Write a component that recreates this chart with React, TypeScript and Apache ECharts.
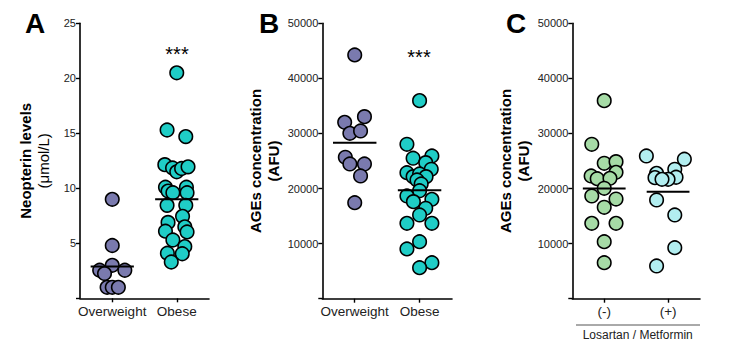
import React, { useEffect, useRef } from "react";
import * as echarts from "echarts";

// Group positions on the horizontal (value) axis
const groupX = [1, 3];
const neoCategories = ["Overweight", "Obese"];
const ageCategories = ["Overweight", "Obese"];
const treatCategories = ["(-)", "(+)"];

// Panel A – Neopterin levels (µmol/L)
const neoOverweight = [9.0, 4.8, 3.0, 2.55, 2.55, 2.25, 1.0, 1.0, 1.0];
const neoOverweightJitter = [0, 0, 0, -0.39, 0.39, -0.24, -0.16, 0, 0.19];
const neoObese = [
  20.5, 15.3, 14.7, 12.15, 11.85, 11.5, 11.8, 11.95, 10.1, 10.1, 9.75, 9.6, 9.6,
  8.45, 8.45, 7.45, 6.9, 6.5, 6.1, 6.03, 5.3, 4.7, 4.1, 4.05, 3.3,
];
const neoObeseJitter = [
  0, -0.3, 0.28, -0.37, -0.13, 0, 0.15, 0.35, -0.35, 0.3, -0.27, -0.12, 0.32,
  -0.3, 0.28, 0.18, -0.27, 0.25, -0.35, 0.32, -0.12, 0.25, -0.29, 0.17, -0.17,
];
const neoMeans = [2.9, 9.0];
const neoTickStep = 5;
const neoMax = 25;

// Panel B – AGEs concentration (AFU)
const ageOverweight = [44250, 33050, 32030, 30030, 30450, 25680, 24460, 24460, 22280, 17430];
const ageOverweightJitter = [0, 0.3, -0.31, -0.15, 0.18, -0.29, -0.15, 0.3, 0.18, 0];
const ageObese = [
  35960, 28040, 25500, 25910, 24700, 22880, 23500, 22160, 22650, 22160, 21560,
  20830, 19600, 18650, 18050, 17620, 16420, 15200, 13690, 13690, 10350, 9030,
  6540, 5630,
];
const ageObeseJitter = [
  0, -0.39, -0.2, 0.38, 0.19, -0.39, 0.36, -0.2, 0, 0.2, -0.08, 0.05, 0, -0.39,
  0.38, -0.19, 0.19, 0, -0.39, 0.38, 0, -0.39, 0.38, 0,
];
const ageMeans = [28300, 19700];

// Panel C – AGEs by Losartan / Metformin
const treatMinus = [
  35960, 28040, 24590, 24880, 22950, 22280, 21790, 21860, 20050, 18650, 18100,
  16600, 13690, 13690, 10350, 6540,
];
const treatMinusJitter = [
  0, -0.39, 0, 0.37, 0.37, -0.41, -0.22, 0.18, 0, -0.39, 0.37, 0, -0.39, 0.37, 0, 0,
];
const treatPlus = [
  25910, 25320, 23500, 22770, 21980, 22050, 21680, 21680, 17920, 15200, 9260, 5940,
];
const treatPlusJitter = [
  -0.68, 0.51, 0.21, -0.36, -0.41, 0.25, 0, -0.19, -0.36, 0.21, 0.21, -0.36,
];
const treatMeans = [20000, 19400];
const ageTickStep = 10000;
const ageMax = 50000;

const meanHalfWidth = 0.67;

const COLORS = {
  overweight: "#7a7aae",
  obese: "#1fcdc6",
  minus: "#a6dba6",
  plus: "#b2eef0",
};

const FONT = "'Liberation Sans', Arial, Helvetica, sans-serif";

const pts = (vals: number[], jit: number[], center: number) =>
  vals.map((v, i) => [center + jit[i], v]);

const meanLine = (mean: number, center: number) => [
  [center - meanHalfWidth, mean],
  [center + meanHalfWidth, mean],
];

export default function App() {
  const ref = useRef<HTMLDivElement>(null);

  useEffect(() => {
    document.body.style.margin = "0";
    if (!ref.current) return;
    const chart = echarts.init(ref.current, undefined, { renderer: "svg" });

    const grids = [
      { left: 80, top: 23.3, width: 129, height: 275 },
      { left: 322.3, top: 23.3, width: 129.7, height: 275.4 },
      { left: 572.3, top: 23.3, width: 127.7, height: 275.4 },
    ];
    const cats = [neoCategories, ageCategories, treatCategories];

    const xAxes = grids.map((_, gi) => ({
      type: "value",
      gridIndex: gi,
      min: 0,
      max: 4,
      splitLine: { show: false },
      axisLine: { show: true, lineStyle: { color: "#000", width: 1.6 } },
      axisTick: {
        show: true,
        customValues: groupX,
        length: 4,
        lineStyle: { color: "#000", width: 1.4 },
      },
      axisLabel: {
        customValues: groupX,
        formatter: (v: number) => cats[gi][groupX.indexOf(v)] ?? "",
        fontFamily: FONT,
        fontSize: 13.5,
        color: "#222",
        margin: 6,
      },
    }));

    const yAxes = grids.map((_, gi) => {
      const isNeo = gi === 0;
      return {
        type: "value",
        gridIndex: gi,
        min: 0,
        max: isNeo ? neoMax : ageMax,
        interval: isNeo ? neoTickStep : ageTickStep,
        splitLine: { show: false },
        axisLine: { show: true, lineStyle: { color: "#000", width: 1.6 } },
        axisTick: { show: true, length: 4, lineStyle: { color: "#000", width: 1.4 } },
        axisLabel: {
          formatter: (v: number) => (v === 0 ? "" : String(v)),
          fontFamily: FONT,
          fontSize: 11,
          color: "#222",
          margin: 4,
        },
        name: isNeo
          ? `{b|Neopterin levels}\n{n|(μmol/L)}`
          : `{b|AGEs concentration}\n{b|(AFU)}`,
        nameLocation: "middle",
        nameRotate: 90,
        nameGap: isNeo ? 28 : 40,
        nameTextStyle: {
          fontFamily: FONT,
          rich: {
            b: { fontFamily: FONT, fontSize: 15, fontWeight: "bold", color: "#000", lineHeight: 18 },
            n: { fontFamily: FONT, fontSize: 15, fontWeight: "normal", color: "#000", lineHeight: 18 },
          },
        },
      };
    });

    const scatter = (data: number[][], gi: number, color: string) => ({
      type: "scatter",
      xAxisIndex: gi,
      yAxisIndex: gi,
      data,
      symbol: "circle",
      symbolSize: 13.5,
      itemStyle: { color, borderColor: "#000", borderWidth: 1.6, opacity: 1 },
      z: 3,
    });
    const mean = (m: number, center: number, gi: number) => ({
      type: "line",
      xAxisIndex: gi,
      yAxisIndex: gi,
      data: meanLine(m, center),
      symbol: "none",
      lineStyle: { color: "#000", width: 2 },
      z: 4,
    });

    const series = [
      scatter(pts(neoOverweight, neoOverweightJitter, groupX[0]), 0, COLORS.overweight),
      scatter(pts(neoObese, neoObeseJitter, groupX[1]), 0, COLORS.obese),
      mean(neoMeans[0], groupX[0], 0),
      mean(neoMeans[1], groupX[1], 0),
      scatter(pts(ageOverweight, ageOverweightJitter, groupX[0]), 1, COLORS.overweight),
      scatter(pts(ageObese, ageObeseJitter, groupX[1]), 1, COLORS.obese),
      mean(ageMeans[0], groupX[0], 1),
      mean(ageMeans[1], groupX[1], 1),
      scatter(pts(treatMinus, treatMinusJitter, groupX[0]), 2, COLORS.minus),
      scatter(pts(treatPlus, treatPlusJitter, groupX[1]), 2, COLORS.plus),
      mean(treatMeans[0], groupX[0], 2),
      mean(treatMeans[1], groupX[1], 2),
    ];

    const letter = (t: string, x: number) => ({
      type: "text",
      x,
      y: 23,
      style: {
        text: t,
        fontFamily: FONT,
        fontSize: 28,
        fontWeight: "bold",
        fill: "#000",
        textAlign: "center",
        textVerticalAlign: "middle",
      },
    });
    const stars = (x: number, y: number) => ({
      type: "text",
      x,
      y,
      style: {
        text: "***",
        fontFamily: FONT,
        fontSize: 20,
        fill: "#000",
        textAlign: "center",
        textVerticalAlign: "middle",
      },
    });

    chart.setOption({
      animation: false,
      backgroundColor: "#fff",
      grid: grids,
      xAxis: xAxes,
      yAxis: yAxes,
      series,
      graphic: [
        letter("A", 35),
        letter("B", 269),
        letter("C", 516),
        stars(177, 54),
        stars(419, 57),
        {
          type: "line",
          shape: { x1: 576, y1: 325, x2: 700, y2: 325 },
          style: { stroke: "#555", lineWidth: 1 },
        },
        {
          type: "text",
          x: 637.7,
          y: 334.5,
          style: {
            text: "Losartan / Metformin",
            fontFamily: FONT,
            fontSize: 12,
            fill: "#222",
            textAlign: "center",
            textVerticalAlign: "middle",
          },
        },
      ],
    });

    return () => chart.dispose();
  }, []);

  return (
    <div
      ref={ref}
      style={{ position: "absolute", left: 0, top: 0, width: 743, height: 351 }}
    />
  );
}
